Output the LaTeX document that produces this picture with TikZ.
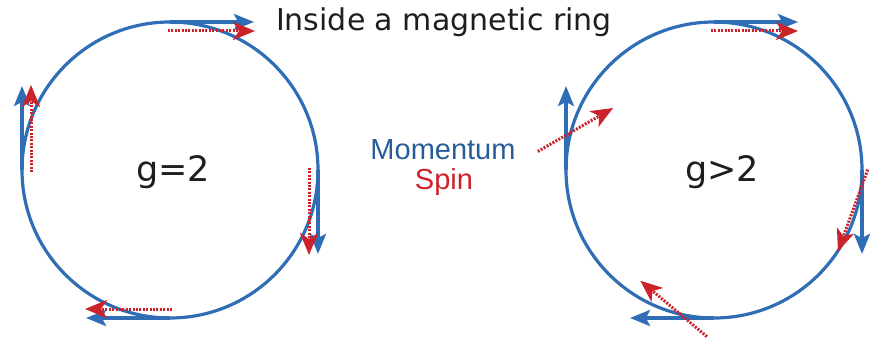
\documentclass[tikz,border=0pt]{standalone}
\usepackage{fontspec}
\setmainfont{DejaVu Sans}
\newfontfamily\arialfont{Liberation Sans}
\usepackage{xcolor}
\usepackage{tikz}
\usetikzlibrary{arrows.meta, calc}
\definecolor{bleu}{HTML}{2F6DB5}
\definecolor{rouge}{HTML}{CC2229}
\definecolor{encre}{HTML}{1E1E1E}
\tikzset{
  anneau/.style={draw=bleu, line width=3.2pt},
  impulsion/.style={-{Stealth[length=20pt, width=16pt, inset=4pt]}, draw=bleu, line width=3.2pt},
  spinfl/.style={-{Stealth[length=22pt, width=18pt, inset=6pt]}, draw=rouge, line width=3pt,
    dash pattern=on 2pt off 1.4pt},
  titre/.style={font=\fontsize{30}{36}\selectfont, text=encre, inner sep=0pt},
  valeurg/.style={font=\fontsize{35}{42}\selectfont, text=encre, inner sep=0pt},
  etiquette/.style={font=\arialfont\fontsize{29}{34}\selectfont, inner sep=0pt}
}

\begin{document}
\begin{tikzpicture}[x=1pt, y=1pt]
    \useasboundingbox (0, 0) rectangle (877, 340);

    \coordinate (cg) at (170, 170);
    \coordinate (cd) at (714, 170);

    \draw[anneau] (cg) circle (148);
    \draw[anneau] (cd) circle (148);

    % g=2 : spin et impulsion restent alignes
    \foreach \a in {90, 0, -90, 180} {
      \draw[impulsion] ($(cg)+(\a:148)$) -- ++(\a-90:84);
      \draw[spinfl] ($(cg)+(\a:139)+(\a-90:-2)$) -- ++(\a-90:87);
    }

    % g>2 : le spin tourne plus vite que l'impulsion
    \foreach \a/\d in {90/0, 0/20, -90/40, 180/60} {
      \draw[impulsion] ($(cd)+(\a:148)$) -- ++(\a-90:84);
      \draw[spinfl] ($(cd)+(\a:139)+(\a-90:40)+(\a-90-\d:-43)$) -- ++(\a-90-\d:87);
    }

    \node[titre] (titre) at (444, 318) {Inside a magnetic ring};
    \node[valeurg] (g2) at (173, 168) {g=2};
    \node[valeurg] (gplus) at (722, 168) {g>2};
    \node[etiquette, text=bleu!85!black] (mom) at (443, 190) {Momentum};
    \node[etiquette, text=rouge] (spin) at (444, 158) {Spin};
  \end{tikzpicture}
\end{document}
